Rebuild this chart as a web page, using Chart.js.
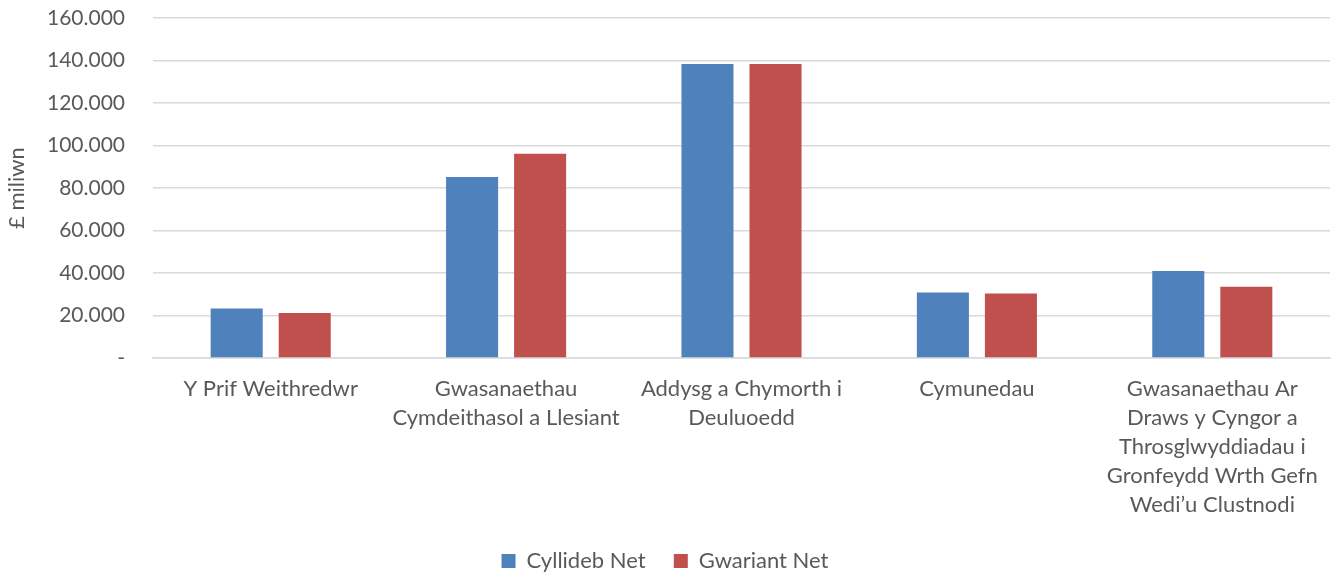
<!DOCTYPE html>
<html>
<head>
<meta charset="utf-8">
<script src="https://cdn.jsdelivr.net/npm/chart.js@4.4.1/dist/chart.umd.min.js"></script>
<style>
  html, body { margin: 0; padding: 0; background: #ffffff; }
  #wrap { width: 1341px; height: 574px; position: relative; }
</style>
</head>
<body>
<div id="wrap"><canvas id="c" width="1341" height="574"></canvas></div>
<script>
const categories = [
  ["Y Prif Weithredwr"],
  ["Gwasanaethau", "Cymdeithasol a Llesiant"],
  ["Addysg a Chymorth i", "Deuluoedd"],
  ["Cymunedau"],
  ["Gwasanaethau Ar", "Draws y Cyngor a", "Throsglwyddiadau i", "Gronfeydd Wrth Gefn", "Wedi\u2019u Clustnodi"]
];
const seriesNames = ["Cyllideb Net", "Gwariant Net"];
const cyllidebNet = [23300, 85200, 138400, 30800, 41000];
const gwariantNet = [21200, 96100, 138300, 30300, 33500];
const yAxisTitle = "£ miliwn";
const yMin = 0, yMax = 160000, yStep = 20000;

function fmt(v) {
  if (v === 0) return "-";
  const s = Math.round(v).toString();
  return s.replace(/\B(?=(\d{3})+(?!\d))/g, ".");
}

const FONT = "Lato, 'Open Sans', sans-serif";
const TXT = "#595959";

new Chart(document.getElementById("c"), {
  type: "bar",
  data: {
    labels: categories,
    datasets: [
      { label: seriesNames[0], data: cyllidebNet, backgroundColor: "#4F81BD" },
      { label: seriesNames[1], data: gwariantNet, backgroundColor: "#C0504D" }
    ]
  },
  options: {
    responsive: false,
    animation: false,
    devicePixelRatio: 1,
    categoryPercentage: 0.578,
    barPercentage: 0.765,
    layout: { padding: { top: 18, right: 11, bottom: -8, left: 0 } },
    plugins: {
      legend: {
        position: "bottom",
        labels: {
          font: { family: FONT, size: 22 },
          color: TXT,
          boxWidth: 14,
          boxHeight: 14,
          padding: 0,
          generateLabels: (chart) => {
            const items = Chart.defaults.plugins.legend.labels.generateLabels(chart);
            items.forEach((it, i) => {
              it.lineWidth = 0;
              if (i < items.length - 1) it.text = it.text + "\u00A0\u00A0\u00A0\u00A0\u00A0";
            });
            return items;
          }
        }
      },
      tooltip: { enabled: false }
    },
    scales: {
      x: {
        grid: { display: false, drawTicks: false },
        border: { color: "#D9D9D9", width: 1.5 },
        ticks: {
          font: { family: FONT, size: 22, lineHeight: 1.32 },
          color: TXT,
          maxRotation: 0,
          minRotation: 0,
          autoSkip: false,
          padding: 16
        },
        afterFit: (s) => { s.height = 192; }
      },
      y: {
        min: yMin,
        max: yMax,
        grid: { color: "#D9D9D9", lineWidth: 1.5, drawTicks: true, tickLength: 25, tickColor: "rgba(0,0,0,0)" },
        border: { display: false },
        ticks: {
          stepSize: yStep,
          font: { family: FONT, size: 21 },
          color: TXT,
          padding: 3,
          callback: (v) => fmt(v)
        },
        title: {
          display: true,
          text: yAxisTitle,
          font: { family: FONT, size: 22 },
          color: TXT,
          padding: { top: 4, bottom: 0 }
        },
        afterFit: (s) => { s.width = 153; }
      }
    }
  }
});
</script>
</body>
</html>
